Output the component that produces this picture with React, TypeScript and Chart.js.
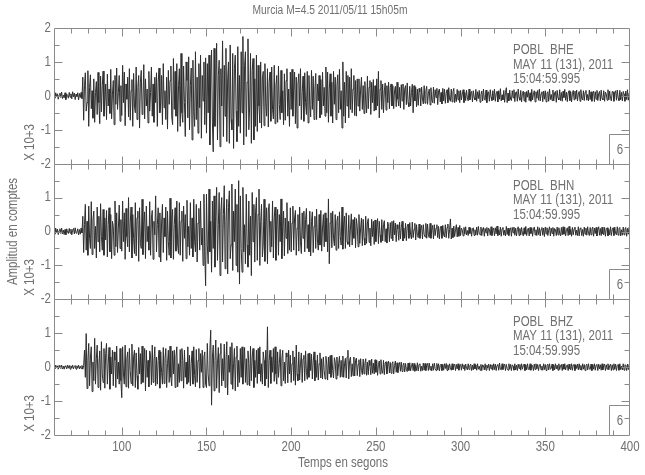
import React, { useEffect, useRef } from "react";
import { Chart, registerables } from "chart.js";

Chart.register(...registerables);

const TITLE = "Murcia M=4.5 2011/05/11 15h05m";
const X_TITLE = "Temps en segons";
const Y_TITLE = "Amplitud en comptes";
const Y_UNIT = "X 10+3";
const STATION = "POBL";
const CHANNELS = ["BHE", "BHN", "BHZ"];
const DATE_LINE = "MAY 11 (131), 2011";
const TIME_LINE = "15:04:59.995";
const BOX_LABEL = "6";

const START_TIME = 60;
const SAMPLE_STEP = 0.5;
const X_MIN = 60;
const X_MAX = 400;
const xTickLabels = [100, 150, 200, 250, 300, 350, 400];
const yTickLabels = [-2, -1, 0, 1, 2];

// BHE trace (x10^3 counts), two samples per second from t=60 s; one row = 10 s
const bheValues = [
  0.04, -0.07, 0.09, -0.02, 0.06, -0.1, 0.03, 0.08, -0.05, 0.11, -0.08, 0.02, -0.06, 0.09, -0.11, 0.05, 0.01, -0.07, 0.1, -0.04,
  0.06, -0.09, 0.12, -0.03, 0.08, -0.11, 0.05, -0.02, 0.09, -0.12, 0.07, -0.05, 0.1, -0.08, 0.55, -0.72, 0.3, 0.68, -0.45, -0.2,
  0.74, -0.9, 0.25, 0.62, -0.38, 0.15, -0.66, 0.5, -0.78, 0.1, 0.42, -0.55, 0.69, -0.2, -0.82, 0.58, -0.47, 0.3, 0.73, -0.6,
  -0.15, 0.35, -0.7, 0.64, -0.3, 0.2, -0.52, 0.78, -0.68, 0.05, 0.45, -0.85, 0.6, -0.25, 0.82, -0.4, 0.1, 0.6, -0.75, 0.3,
  -0.58, 0.9, -0.2, 0.7, -0.88, 0.35, -0.1, 0.55, -0.62, 0.8, -0.72, 0.15, 0.48, -0.9, 0.66, -0.3, -0.5, 0.85, -0.7, 0.25,
  0.6, -0.95, 0.4, 0.75, -0.55, -0.15, 0.92, -0.68, 0.5, -0.3, 0.2, -0.8, 0.72, -0.45, 0.1, 0.85, -0.6, 0.35, -0.78, 0.55,
  -0.2, 0.68, -0.9, 0.4, 0.82, -0.5, -0.2, 0.6, -0.85, 0.95, -0.35, 0.15, -0.7, 0.55, -0.98, 0.75, -0.25, 0.45, 0.88, -0.62,
  -0.85, 1.1, -0.4, 0.72, -0.6, 0.95, -1.05, 0.3, 0.8, -0.9, 1.25, -0.5, -0.78, 0.88, -0.2, -1.2, 1.0, 0.45, -0.65, 1.15,
  -1.0, 0.3, 0.82, -1.3, 1.05, -0.45, -0.9, 1.3, -0.7, 0.55, -1.1, 0.95, -0.35, 1.2, -1.25, 0.6, -0.15, 1.0, -0.85, 1.12,
  -1.1, 0.95, -0.5, 1.2, -1.45, 0.7, 1.35, -0.8, -1.65, 1.4, -0.9, 0.4, 1.55, -1.3, 0.6, 1.05, -1.5, 0.8, -0.3, 1.62,
  -1.2, 0.9, -0.6, 1.4, -1.35, 0.5, 1.0, -1.4, 1.5, -0.7, -1.0, 1.25, -1.55, 0.8, 1.2, -0.45, -1.35, 1.45, -0.9, 0.6,
  -1.1, 1.3, -0.5, 1.75, -1.45, 0.9, 1.3, -1.2, 0.4, 1.68, -1.0, -0.3, 1.25, -1.4, 0.75, 1.1, -1.3, 0.5, -0.9, 1.2,
  -1.05, 0.9, -0.3, -0.8, 1.0, -0.95, 0.5, 0.72, -0.88, 0.95, -0.2, -0.6, 0.8, -0.92, 0.4, 0.7, -0.75, 0.85, -0.4, -0.68,
  0.9, -0.82, 0.3, 0.6, -0.78, 0.88, -0.25, -0.7, 0.75, -0.5, 0.15, -0.85, 0.65, -0.72, 0.45, 0.8, -0.6, 0.2, -0.9, 0.7,
  -0.4, 0.78, -0.6, 0.2, 0.7, -0.82, 0.55, -0.95, 0.35, 0.65, -0.3, 0.8, -0.7, 0.1, 0.58, -0.75, 0.68, -0.2, -0.55, 0.72,
  -0.8, 0.6, -0.25, -0.62, 0.75, -0.4, 0.58, -0.7, 0.2, 0.66, -0.7, 0.35, -0.15, 0.6, -0.65, 0.48, -0.55, 0.7, -0.3, 0.25,
  -0.6, 0.85, -0.5, 0.7, -0.78, 0.2, 0.65, -0.6, 0.4, -0.8, 0.72, -0.25, 0.55, -0.7, 0.3, 0.62, -0.5, 0.78, -0.4, 0.15,
  -0.95, 1.0, -0.6, 0.4, -0.8, 0.72, -0.3, 0.6, -0.65, 0.55, -0.4, 0.8, -0.5, 0.2, 0.6, -0.58, 0.45, -0.6, 0.5, -0.3,
  0.5, -0.45, 0.2, 0.55, -0.4, 0.3, -0.52, 0.42, -0.15, -0.5, 0.58, -0.38, 0.25, 0.45, -0.55, 0.4, -0.2, 0.48, -0.45, 0.3,
  -0.42, 0.5, -0.3, 0.72, -0.65, 0.2, 0.45, -0.4, 0.35, -0.5, 0.15, 0.38, -0.42, 0.3, -0.2, 0.4, -0.38, 0.25, 0.35, -0.3,
  0.3, -0.38, 0.15, 0.28, -0.32, 0.4, -0.1, -0.3, 0.25, -0.36, 0.33, -0.15, 0.35, -0.4, 0.2, 0.3, -0.26, 0.38, -0.2, -0.32,
  0.28, -0.3, 0.1, 0.34, -0.5, 0.3, -0.15, 0.25, -0.32, 0.2, -0.28, 0.22, 0.12, -0.3, 0.26, -0.1, -0.24, 0.3, -0.22, 0.15,
  0.28, -0.25, 0.08, 0.2, -0.27, 0.24, -0.12, -0.2, 0.26, -0.22, 0.18, -0.05, 0.22, -0.26, 0.15, 0.2, -0.18, 0.1, -0.24, 0.22,
  -0.15, 0.2, -0.22, 0.08, 0.18, -0.2, 0.24, -0.1, -0.16, 0.2, -0.18, 0.12, 0.22, -0.2, 0.05, -0.17, 0.19, -0.12, 0.15, -0.2,
  0.16, -0.12, 0.05, 0.18, -0.2, 0.1, -0.14, 0.17, -0.06, -0.15, 0.2, -0.12, 0.08, 0.13, -0.18, 0.15, -0.05, -0.12, 0.19, -0.16,
  0.12, -0.08, 0.16, -0.19, 0.04, 0.14, -0.15, 0.2, -0.1, -0.13, 0.17, -0.2, 0.09, 0.12, -0.16, 0.18, -0.04, -0.14, 0.15, -0.12,
  0.2, -0.16, 0.06, 0.13, -0.18, 0.15, -0.1, 0.21, -0.15, 0.03, -0.12, 0.16, -0.19, 0.1, 0.24, -0.2, 0.08, -0.15, 0.17, -0.1,
  -0.14, 0.15, -0.06, 0.18, -0.17, 0.1, 0.12, -0.16, 0.2, -0.05, -0.13, 0.16, -0.18, 0.07, 0.14, -0.15, 0.11, -0.19, 0.13, -0.04,
  0.17, -0.14, 0.09, -0.16, 0.19, -0.12, 0.05, 0.15, -0.18, 0.12, -0.07, 0.16, -0.13, 0.2, -0.15, 0.06, 0.12, -0.17, 0.14, -0.1,
  0.15, -0.18, 0.08, 0.12, -0.16, 0.2, -0.11, 0.04, -0.14, 0.17, -0.15, 0.09, 0.13, -0.19, 0.16, -0.06, -0.12, 0.18, -0.14, 0.1,
  -0.16, 0.14, -0.05, 0.19, -0.13, 0.11, -0.17, 0.08, 0.15, -0.14, 0.12, -0.18, 0.06, 0.16, -0.12, 0.14, -0.09, 0.17, -0.15, 0.05,
  0.13, -0.16, 0.18, -0.07, -0.12, 0.15, -0.14, 0.1, 0.16, -0.13, 0.04, -0.15, 0.17, -0.11, 0.12, -0.16, 0.08, 0.14, -0.17, 0.12,
  -0.1, 0.16, -0.14, 0.06, 0.13, -0.15, 0.17, -0.08, -0.12, 0.15, -0.16, 0.11, 0.05, -0.13, 0.18, -0.12, 0.14, -0.07, -0.15, 0.13,
  0.12, -0.16, 0.09, 0.15, -0.13, 0.17, -0.06, -0.14, 0.16, -0.12, 0.1, -0.15, 0.13, 0.05, -0.16, 0.14, -0.11, 0.18, -0.13, 0.08,
  0.12,
];

// BHN trace
const bhnValues = [
  0.05, -0.08, 0.1, -0.03, 0.07, -0.09, 0.02, 0.08, -0.06, 0.1, -0.07, 0.04, -0.09, 0.06, -0.1, 0.08, -0.02, -0.06, 0.09, -0.05,
  0.07, -0.1, 0.04, 0.09, -0.07, 0.11, -0.05, -0.03, 0.08, -0.1, 0.06, -0.08, 0.1, -0.04, 0.45, -0.62, 0.2, 0.8, -0.55, 0.3,
  -0.7, 0.75, -0.2, -0.5, 0.88, -0.68, 0.35, 0.6, -0.5, 0.15, -0.78, 0.72, -0.3, 0.45, -0.6, 0.82, -0.15, -0.55, 0.65, -0.7,
  0.4, -0.25, 0.62, -0.75, 0.2, 0.7, -0.6, 0.5, -0.8, 0.3, 0.15, -0.7, 0.9, -0.45, 0.55, -0.62, 0.1, 0.78, -0.5, 0.35,
  -0.58, 0.9, -0.3, 0.55, -0.82, 0.68, -0.15, -0.45, 1.0, -0.6, 0.25, 0.72, -0.78, 0.5, -0.2, -0.65, 0.85, -0.72, 0.4, 0.6,
  -0.88, 0.7, -0.35, -0.5, 0.95, -0.68, 0.2, 0.58, -0.8, 0.75, -0.3, 0.15, -0.55, 0.88, -0.7, 0.4, 0.62, -0.82, 0.3, -0.1,
  1.05, -0.6, 0.2, 0.7, -0.75, 0.55, -0.9, 0.25, 0.8, -0.62, 0.4, -0.15, 0.72, -0.85, 0.6, -0.3, -0.7, 0.98, -0.78, 0.35,
  0.65, -0.82, 0.2, 0.7, -0.58, 0.9, -0.4, -0.65, 0.85, -0.7, 0.3, 0.6, -0.88, 0.75, -0.2, 0.5, -0.8, 0.92, -0.45, 0.15,
  -0.7, 0.85, -0.5, 0.4, -0.75, 0.95, -0.3, -0.6, 0.8, -0.9, 0.25, 0.68, -0.55, 0.9, -0.4, 0.1, -1.0, 1.1, -0.6, -1.6,
  1.1, -0.4, -0.95, 1.25, -0.6, 0.3, -1.2, 0.9, -0.5, 1.05, -1.05, 0.45, 1.3, -0.85, 0.2, 1.15, -1.3, 0.6, 1.0, -0.9,
  0.5, 1.35, -1.1, 0.3, 0.95, -1.25, 0.7, 1.2, -0.8, -0.4, 1.4, -1.15, 0.6, -0.3, 1.25, -1.0, 0.8, -1.2, 1.5, -1.55,
  1.05, -0.5, -1.2, 1.3, -0.6, 0.2, -0.95, 1.1, -0.4, -1.05, 0.9, -0.7, 0.45, -1.3, 1.15, -0.3, 0.8, -0.9, 0.6, 1.0,
  -0.85, 0.5, 1.25, -1.0, 0.3, 0.8, -0.75, -0.4, 0.95, -0.88, 0.2, 0.7, -0.95, 0.6, 0.82, -0.6, 0.3, -0.45, 0.9, -0.78,
  0.4, 0.72, -0.85, 0.2, 0.65, -0.7, 0.5, -0.3, 0.96, -0.8, 0.15, 0.6, -0.72, 0.4, -0.2, 0.85, -0.65, 0.3, -0.55, 0.7,
  -0.6, 0.25, 0.75, -0.55, 0.4, 0.62, -0.7, 0.1, 0.5, -0.58, 0.72, -0.3, -0.65, 0.55, -0.2, 0.6, -0.6, 0.35, 0.68, -0.5,
  0.2, -0.6, 0.6, -0.72, 0.3, 0.58, -0.62, 0.15, 0.45, -0.5, 0.66, -0.25, -0.55, 0.5, -0.4, 0.62, -0.58, 0.1, 0.5, -0.45,
  0.55, -0.3, 0.4, -0.6, 0.96, -0.95, 0.25, 0.55, -0.48, 0.6, -0.2, -0.42, 0.5, -0.55, 0.3, 0.45, -0.5, 0.58, -0.15, -0.4,
  0.72, -0.52, 0.2, 0.45, -0.5, 0.55, -0.3, -0.38, 0.48, -0.45, 0.1, 0.52, -0.4, 0.35, -0.2, 0.42, -0.48, 0.38, 0.15, -0.45,
  0.5, -0.35, 0.1, 0.4, -0.42, 0.36, -0.2, -0.4, 0.45, -0.35, 0.25, 0.38, -0.32, 0.1, -0.42, 0.36, -0.15, 0.3, -0.38, 0.34,
  -0.3, 0.12, 0.38, -0.36, 0.3, -0.1, -0.32, 0.35, -0.28, 0.2, 0.32, -0.3, 0.08, -0.34, 0.28, 0.15, -0.3, 0.26, -0.2, 0.3,
  -0.28, 0.32, -0.1, 0.25, -0.3, 0.2, 0.08, -0.26, 0.28, -0.22, 0.12, 0.3, -0.28, 0.1, -0.2, 0.24, -0.27, 0.15, 0.22, -0.2,
  0.26, -0.1, -0.22, 0.28, -0.18, 0.06, 0.24, -0.25, 0.2, -0.12, -0.18, 0.22, -0.2, 0.1, 0.18, -0.22, 0.2, -0.08, -0.16, 0.24,
  -0.2, 0.22, -0.1, -0.18, 0.24, -0.2, 0.05, 0.18, -0.22, 0.2, -0.12, 0.1, 0.2, -0.18, 0.15, -0.22, 0.08, 0.16, -0.2, 0.18,
  -0.1, -0.16, 0.2, -0.18, 0.12, 0.22, -0.2, 0.06, 0.37, -0.22, 0.1, -0.18, 0.16, -0.15, 0.05, 0.2, -0.16, 0.12, -0.14, 0.18,
  -0.12, 0.1, 0.04, -0.13, 0.12, -0.08, 0.14, -0.1, 0.03, -0.12, 0.13, -0.06, 0.1, -0.14, 0.08, 0.11, -0.12, 0.05, -0.1, 0.13,
  -0.11, 0.15, -0.05, -0.1, 0.13, -0.12, 0.07, 0.12, -0.14, 0.09, -0.04, 0.12, -0.13, 0.1, 0.06, -0.11, 0.14, -0.12, 0.03, 0.1,
  -0.13, 0.11, -0.07, 0.16, -0.12, 0.05, -0.1, 0.13, -0.14, 0.08, 0.12, -0.11, 0.04, -0.13, 0.15, -0.09, 0.1, -0.12, 0.06, 0.11,
  -0.14, 0.12, -0.04, 0.13, -0.11, 0.1, -0.13, 0.06, 0.14, -0.12, 0.09, -0.1, 0.12, -0.05, -0.13, 0.11, -0.08, 0.15, -0.12, 0.04,
  0.1, -0.13, 0.12, -0.06, 0.11, -0.14, 0.08, 0.13, -0.1, 0.05, -0.12, 0.14, -0.09, 0.11, -0.13, 0.06, 0.12, -0.11, 0.1, -0.15,
  0.13, -0.07, 0.11, -0.12, 0.04, 0.14, -0.13, 0.1, -0.06, 0.12, -0.14, 0.09, 0.05, -0.12, 0.13, -0.1, 0.11, -0.05, -0.13, 0.12,
  -0.1, 0.14, -0.08, 0.12, -0.13, 0.05, 0.11, -0.12, 0.15, -0.09, 0.06, -0.14, 0.12, -0.1, 0.08, 0.13, -0.11, 0.04, -0.12, 0.14,
  -0.13, 0.09, 0.11, -0.12, 0.06, -0.14, 0.13, -0.08, 0.1, -0.11, 0.14, -0.05, -0.12, 0.12, -0.1, 0.07, 0.13, -0.14, 0.1, -0.06,
  0.12, -0.13, 0.05, 0.14, -0.11, 0.09, -0.12, 0.13, -0.07, -0.1, 0.12, -0.14, 0.08, 0.11, -0.13, 0.06, -0.1, 0.14, -0.12, 0.05,
  0.11, -0.12, 0.13, -0.06, -0.1, 0.14, -0.11, 0.08, 0.12, -0.13, 0.05, -0.11, 0.13, -0.1, 0.07, 0.12, -0.14, 0.09, -0.08, 0.12,
  -0.1,
];

// BHZ trace
const bhzValues = [
  0.03, -0.05, 0.06, -0.02, 0.04, -0.06, 0.05, 0.01, -0.04, 0.06, -0.05, 0.03, -0.06, 0.04, 0.02, -0.05, 0.06, -0.03, 0.05, -0.06,
  0.04, -0.03, 0.06, -0.05, 0.02, 0.05, -0.06, 0.04, -0.03, 0.06, -0.05, 0.03, -0.04, 0.05, -0.06, 0.04, 0.5, -0.3, 0.99, -0.63,
  0.2, 0.7, -0.55, 0.3, 0.6, -0.72, 0.15, -0.4, 0.85, -0.5, 0.25, 0.65, -0.6, 0.1, 0.48, -0.68, 0.75, -0.2, -0.45, 0.55,
  -0.62, 0.4, 0.7, -0.5, 0.1, 0.58, -0.65, 0.3, -0.2, 0.5, -0.55, 0.45, 0.2, -0.6, 0.62, -0.35, 0.15, -0.5, 0.55, -0.4,
  -0.9, 0.6, -0.2, -0.5, 0.65, -0.58, 0.25, 0.45, -0.62, 0.55, -0.1, -0.48, 0.68, -0.55, 0.3, 0.5, -0.6, 0.42, -0.25, -0.65,
  0.58, -0.2, 0.4, -0.5, 0.62, -0.45, 0.1, 0.55, -0.7, 0.5, -0.3, 0.2, -0.58, 0.48, 0.35, -0.52, 0.65, -0.45, 0.15, 0.6,
  -0.55, 0.3, -0.5, 0.2, 0.5, -0.62, 0.45, -0.15, -0.5, 0.58, -0.48, 0.25, 0.55, -0.6, 0.1, 0.5, -0.45, 0.62, -0.3, -0.55,
  0.48, -0.2, 0.5, -0.6, 0.3, 0.6, -0.58, 0.1, -0.45, 0.52, -0.4, 0.55, 0.2, -0.62, 0.5, -0.3, 0.15, -0.5, 0.6, -0.45,
  0.35, -0.55, 0.1, 0.48, -0.5, 0.6, -0.25, -0.58, 0.52, -0.45, 0.2, 0.55, -0.62, 0.4, -0.15, 0.5, -0.6, 0.3, 0.45, -0.5,
  -0.6, 0.7, -0.2, -0.55, 0.5, 1.09, -1.12, 0.3, 0.65, -0.7, 0.2, 0.8, -0.62, 0.1, 0.58, -0.75, 0.4, 0.7, -0.55, 0.25,
  -0.4, 0.68, -0.6, 0.2, 0.75, -0.82, 0.35, -0.15, 0.6, -0.5, 0.72, -0.65, 0.1, 0.55, -0.7, 0.3, 0.62, -0.58, 0.2, -0.45,
  0.55, -0.3, 0.6, -0.5, 0.15, 0.58, -0.45, 0.25, -0.52, 0.48, 0.1, -0.55, 0.62, -0.4, 0.3, 0.55, -0.6, 0.2, -0.3, 0.5,
  -0.48, 0.55, -0.2, 0.6, -0.42, 0.1, -0.5, 0.45, 0.2, -0.55, 0.5, -0.35, 1.19, -0.6, 0.2, 0.5, -0.48, 0.3, -0.15, 0.55,
  -0.42, 0.6, -0.2, -0.5, 0.45, -0.3, 0.1, 0.52, -0.55, 0.25, 0.5, -0.4, 0.15, -0.48, 0.42, 0.3, -0.46, 0.5, -0.2, 0.35,
  -0.45, 0.1, 0.48, -0.4, 0.3, -0.53, 0.65, -0.2, -0.4, 0.45, -0.38, 0.1, 0.42, -0.45, 0.25, 0.35, -0.4, 0.48, -0.15, -0.36,
  0.4, -0.3, 0.42, -0.1, 0.38, -0.35, 0.15, 0.45, -0.4, 0.2, -0.3, 0.36, -0.38, 0.1, 0.42, -0.32, 0.25, -0.35, 0.3, -0.1,
  -0.35, 0.32, 0.1, -0.38, 0.3, -0.2, 0.34, -0.3, 0.36, -0.1, -0.32, 0.28, 0.15, -0.35, 0.3, -0.25, 0.1, 0.32, -0.3, 0.2,
  -0.28, 0.33, -0.3, 0.1, 0.26, -0.32, 0.3, 0.5, -0.35, 0.2, 0.3, -0.28, 0.1, -0.25, 0.3, -0.26, 0.2, 0.27, -0.25, 0.08,
  0.22, -0.28, 0.25, -0.1, -0.22, 0.24, -0.2, 0.1, 0.25, -0.24, 0.15, -0.22, 0.2, 0.05, -0.22, 0.24, -0.18, 0.12, -0.2, 0.22,
  -0.15, 0.2, -0.24, 0.08, 0.18, -0.2, 0.22, -0.1, -0.18, 0.2, -0.22, 0.12, 0.16, -0.2, 0.05, 0.18, -0.17, 0.14, -0.18, 0.1,
  0.16, -0.2, 0.05, 0.18, -0.15, 0.13, -0.16, 0.04, 0.14, -0.12, 0.15, -0.13, 0.06, 0.12, -0.14, 0.11, -0.08, -0.13, 0.12, -0.1,
  0.13, -0.11, 0.04, 0.12, -0.1, 0.11, -0.12, 0.05, -0.1, 0.13, -0.11, 0.08, 0.1, -0.12, 0.03, -0.1, 0.12, -0.09, 0.11, -0.1,
  0.06, 0.11, -0.1, 0.12, -0.08, 0.03, -0.11, 0.1, -0.09, 0.12, -0.04, -0.1, 0.11, -0.08, 0.1, -0.11, 0.05, 0.09, -0.1, 0.08,
  -0.09, 0.1, -0.04, 0.11, -0.1, 0.07, -0.08, 0.1, -0.02, -0.09, 0.1, -0.08, 0.06, 0.09, -0.1, 0.08, -0.05, 0.1, -0.09, 0.04,
  0.08, -0.09, 0.1, -0.04, 0.07, -0.1, 0.09, -0.03, -0.08, 0.1, -0.07, 0.05, 0.09, -0.1, 0.06, -0.08, 0.1, -0.05, 0.07, -0.09,
  0.1, -0.06, 0.03, -0.09, 0.08, -0.1, 0.07, 0.04, -0.08, 0.1, -0.09, 0.06, -0.03, 0.09, -0.1, 0.08, -0.05, 0.07, -0.09, 0.1,
  -0.07, 0.09, -0.1, 0.05, 0.08, -0.09, 0.12, -0.06, -0.08, 0.1, -0.07, 0.04, 0.09, -0.1, 0.08, -0.04, -0.09, 0.1, -0.06, 0.08,
  -0.1, 0.07, 0.03, -0.09, 0.1, -0.08, 0.06, -0.1, 0.09, -0.04, 0.08, -0.09, 0.1, -0.06, 0.04, 0.09, -0.1, 0.07, -0.08, 0.1,
  -0.05, -0.08, 0.1, -0.09, 0.07, 0.04, -0.1, 0.09, -0.07, 0.1, -0.05, 0.08, -0.1, 0.06, 0.09, -0.08, 0.03, -0.09, 0.1, -0.07,
  0.08, -0.1, 0.05, 0.09, -0.08, 0.1, -0.06, -0.04, 0.09, -0.1, 0.07, -0.08, 0.1, -0.05, 0.06, -0.09, 0.1, -0.07, 0.04, 0.08,
  -0.1, 0.09, -0.06, 0.1, -0.08, 0.03, 0.07, -0.1, 0.09, -0.05, -0.08, 0.1, -0.09, 0.06, 0.08, -0.1, 0.07, -0.04, 0.09, -0.08,
  0.1, -0.07, 0.05, -0.09, 0.1, -0.06, 0.08, -0.1, 0.04, 0.09, -0.08, 0.1, -0.05, -0.07, 0.09, -0.1, 0.08, -0.06, 0.1, -0.09,
  0.06, 0.08, -0.1, 0.09, -0.05, 0.07, -0.09, 0.1, -0.08, 0.04, 0.09, -0.1, 0.07, -0.06, 0.1, -0.08, 0.05, 0.09, -0.1, 0.07,
  -0.08, 0.1, -0.06, 0.09, -0.1, 0.05, 0.08, -0.09, 0.1, -0.07, 0.03, -0.08, 0.1, -0.09, 0.07, 0.06, -0.1, 0.09, -0.07, 0.08,
  -0.06,
];

const traces = [bheValues, bhnValues, bhzValues];
const AXIS_IDS = ["y1", "y2", "y3"];

const FONT_FAMILY = "'Liberation Sans', Arial, sans-serif";
const NARROW = 0.82;
const TEXT_COLOR = "#707070";
const FRAME_COLOR = "#8a8a8a";
const TRACE_COLOR = "#2e2e2e";

function narrowText(
  ctx: CanvasRenderingContext2D,
  text: string,
  x: number,
  y: number,
  align: CanvasTextAlign,
  size: number,
  rotate = false
) {
  ctx.save();
  ctx.font = `${size}px ${FONT_FAMILY}`;
  ctx.fillStyle = TEXT_COLOR;
  ctx.textAlign = align;
  ctx.textBaseline = "middle";
  ctx.translate(x, y);
  if (rotate) ctx.rotate(-Math.PI / 2);
  ctx.scale(NARROW, 1);
  ctx.fillText(text, 0, 0);
  ctx.restore();
}

const decorPlugin = {
  id: "seismoDecor",
  afterDraw(chart: any) {
    const ctx: CanvasRenderingContext2D = chart.ctx;
    const xs = chart.scales.x;
    const ca = chart.chartArea;
    const L = Math.round(ca.left) + 0.5;
    const R = Math.round(ca.right) - 0.5;
    ctx.save();
    ctx.strokeStyle = FRAME_COLOR;
    ctx.lineWidth = 1;

    narrowText(ctx, TITLE, 330, 11, "center", 12.5);

    AXIS_IDS.forEach((id, p) => {
      const ys = chart.scales[id];
      const top = Math.round(ys.getPixelForValue(2)) + 0.5;
      const bot = Math.round(ys.getPixelForValue(-2)) + 0.5;
      ctx.beginPath();
      ctx.rect(L, top, R - L, bot - top);
      for (let v = 70; v < X_MAX; v += 10) {
        const px = Math.round(xs.getPixelForValue(v)) + 0.5;
        const len = v % 50 === 0 ? 8 : 5;
        ctx.moveTo(px, top);
        ctx.lineTo(px, top + len);
        ctx.moveTo(px, bot);
        ctx.lineTo(px, bot - len);
      }
      for (let k = -3; k <= 3; k++) {
        const v = k * 0.5;
        const py = Math.round(ys.getPixelForValue(v)) + 0.5;
        const len = k % 2 === 0 ? 8 : 5;
        ctx.moveTo(L, py);
        ctx.lineTo(L + len, py);
        ctx.moveTo(R, py);
        ctx.lineTo(R - len, py);
      }
      const bx = Math.round(ca.right - 21) + 0.5;
      const by = bot - 30;
      ctx.moveTo(bx, bot);
      ctx.lineTo(bx, by);
      ctx.lineTo(R, by);
      ctx.stroke();

      narrowText(ctx, BOX_LABEL, bx + 10.5, bot - 14, "center", 14);

      ys.ticks.forEach((t: any) => {
        narrowText(ctx, String(t.value), ca.left - 3, ys.getPixelForValue(t.value), "right", 14);
      });

      const zero = ys.getPixelForValue(0);
      narrowText(ctx, STATION, 513, zero - 45.5, "left", 14);
      narrowText(ctx, CHANNELS[p], 550, zero - 45.5, "left", 14);
      narrowText(ctx, DATE_LINE, 513, zero - 31, "left", 14);
      narrowText(ctx, TIME_LINE, 513, zero - 16.5, "left", 14);

      narrowText(ctx, Y_UNIT, 30, bot - 22, "center", 14, true);
    });

    xs.ticks.forEach((t: any) => {
      narrowText(ctx, String(t.value), xs.getPixelForValue(t.value), 447, "center", 14);
    });

    narrowText(ctx, X_TITLE, 298, 463, "left", 14);
    narrowText(ctx, Y_TITLE, 13, chart.scales.y2.getPixelForValue(0), "center", 14, true);

    ctx.restore();
  },
};

function yAxis(showTop: boolean) {
  return {
    type: "linear",
    position: "left",
    stack: "waves",
    stackWeight: 1,
    min: -2,
    max: 2,
    grid: { display: false, drawTicks: false },
    border: { display: false },
    ticks: { display: false },
    afterBuildTicks: (s: any) => {
      s.ticks = yTickLabels.filter((v) => showTop || v !== 2).map((v) => ({ value: v }));
    },
    afterFit: (s: any) => {
      s.width = 54;
    },
  };
}

export default function App() {
  const ref = useRef<HTMLCanvasElement | null>(null);
  useEffect(() => {
    document.body.style.margin = "0";
    const canvas = ref.current;
    if (!canvas) return;
    const datasets = traces.map((vals, p) => ({
      label: CHANNELS[p],
      data: vals.map((v, i) => ({ x: START_TIME + i * SAMPLE_STEP, y: v })),
      yAxisID: AXIS_IDS[p],
      borderColor: TRACE_COLOR,
      borderWidth: 1,
      pointRadius: 0,
      fill: false,
      tension: 0,
    }));
    const chart = new Chart(canvas, {
      type: "line",
      data: { datasets },
      options: {
        animation: false,
        responsive: false,
        events: [],
        layout: { padding: { top: 28, right: 15, left: 0, bottom: 0 } },
        plugins: { legend: { display: false }, tooltip: { enabled: false }, title: { display: false } },
        scales: {
          x: {
            type: "linear",
            min: X_MIN,
            max: X_MAX,
            grid: { display: false, drawTicks: false },
            border: { display: false },
            ticks: { display: false },
            afterBuildTicks: (s: any) => {
              s.ticks = xTickLabels.map((v) => ({ value: v }));
            },
            afterFit: (s: any) => {
              s.height = 40;
            },
          },
          // stacked axes are laid out bottom-up in definition order
          y3: yAxis(false),
          y2: yAxis(false),
          y1: yAxis(true),
        } as any,
      },
      plugins: [decorPlugin],
    } as any);
    return () => chart.destroy();
  }, []);
  return (
    <canvas ref={ref} width={645} height={475} style={{ display: "block", width: 645, height: 475 }} />
  );
}
